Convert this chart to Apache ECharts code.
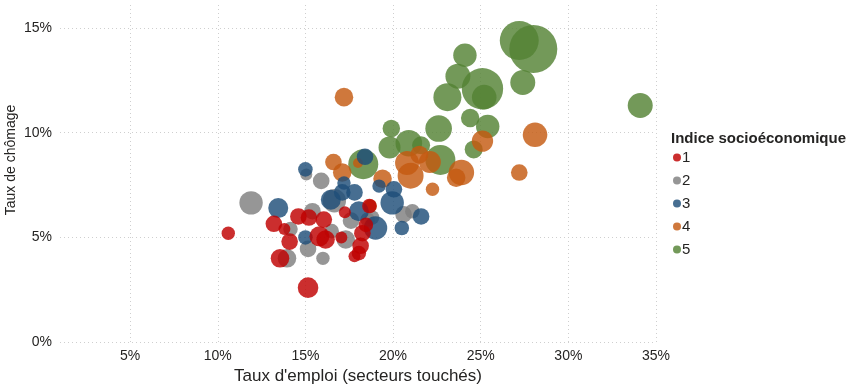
<!DOCTYPE html>
<html>
<head>
<meta charset="utf-8">
<script src="https://cdn.jsdelivr.net/npm/echarts@6/dist/echarts.min.js"></script>
<style>html,body{margin:0;padding:0;background:#fff}#c{width:850px;height:390px}</style>
</head>
<body>
<div id="c"></div>
<script>
// Indice socioéconomique groups: employment rate in affected sectors (%), unemployment rate (%), population (bubble size)
const categories = ['1', '2', '3', '4', '5'];
const colors = ['#C00000', '#7F7F7F', '#1F4E79', '#C55A11', '#548235'];

const x1 = [10.6, 15.15, 13.2, 13.8, 14.6, 14.1, 13.55, 16.05, 15.2, 15.8, 16.15, 17.25, 17.05, 18.25, 18.15, 18.05, 17.8, 18.65, 18.45];
const y1 = [5.2, 2.6, 5.65, 5.4, 6.0, 4.8, 4.0, 5.85, 5.95, 5.05, 4.9, 6.2, 5.0, 5.2, 4.6, 4.25, 4.1, 6.5, 5.6];
const p1 = [45, 106, 69, 36, 69, 69, 86, 69, 69, 100, 86, 36, 36, 69, 69, 53, 36, 53, 53];

const x2 = [11.9, 15.9, 15.05, 15.4, 14.15, 13.95, 15.15, 16.0, 16.5, 17.3, 17.6, 16.65, 18.8, 20.6, 21.1, 18.55];
const y2 = [6.65, 7.7, 8.0, 6.25, 5.4, 4.0, 4.45, 4.0, 5.3, 4.9, 5.8, 6.75, 5.95, 6.1, 6.25, 5.85];
const p2 = [137, 69, 36, 69, 53, 86, 69, 45, 53, 86, 69, 137, 53, 69, 53, 53];

const x3 = [15.0, 13.45, 18.4, 17.2, 16.45, 17.8, 18.05, 19.0, 19.95, 20.05, 19.2, 21.6, 20.5, 15.0, 17.1];
const y3 = [8.25, 6.4, 8.85, 7.6, 6.8, 7.15, 6.25, 5.45, 6.65, 7.3, 7.45, 6.0, 5.45, 5.0, 7.15];
const p3 = [53, 100, 69, 45, 100, 69, 100, 137, 137, 69, 45, 69, 53, 53, 69];

const x4 = [17.2, 28.1, 25.1, 27.2, 23.9, 23.6, 22.25, 20.8, 22.1, 21.0, 21.5, 16.6, 17.1, 19.4, 18.0, 18.7];
const y4 = [11.7, 9.9, 9.6, 8.1, 8.1, 7.85, 7.3, 8.55, 8.6, 7.95, 8.95, 8.6, 8.1, 7.8, 8.55, 6.5];
const p4 = [86, 151, 114, 69, 161, 86, 45, 144, 121, 169, 81, 69, 86, 86, 25, 45];

const x5 = [27.2, 28.0, 27.4, 34.1, 24.1, 23.7, 25.1, 25.2, 23.1, 24.4, 25.4, 24.6, 22.6, 19.9, 19.8, 20.9, 21.6, 22.7, 18.3];
const y5 = [14.4, 14.0, 12.4, 11.3, 13.7, 12.7, 12.1, 11.7, 11.7, 10.7, 10.3, 9.2, 10.2, 10.2, 9.3, 9.5, 9.4, 8.7, 8.5];
const p5 = [380, 576, 156, 156, 137, 156, 428, 151, 196, 86, 137, 81, 177, 76, 121, 177, 81, 225, 225];

const xTicks = [5, 10, 15, 20, 25, 30, 35];
const yTicks = [0, 5, 10, 15];

const groups = [[x1, y1, p1], [x2, y2, p2], [x3, y3, p3], [x4, y4, p4], [x5, y5, p5]];
const drawOrder = [4, 3, 1, 2, 0];

const FONT = '"Liberation Sans", Arial, sans-serif';
const TXT = '#252423';

const series = drawOrder.map(function (gi) {
  const g = groups[gi];
  return {
    name: categories[gi],
    type: 'scatter',
    data: g[0].map(function (v, i) { return [v, g[1][i], g[2][i]]; }),
    symbolSize: function (d) { return 2 * Math.sqrt(d[2]); },
    itemStyle: { color: colors[gi], opacity: 0.82 },
    emphasis: { disabled: true }
  };
});

const chart = echarts.init(document.getElementById('c'), null, { renderer: 'canvas' });
chart.setOption({
  animation: false,
  color: colors,
  textStyle: { fontFamily: FONT },
  grid: { left: 60, right: 194, top: 5, bottom: 46.5 },
  title: {
    text: 'Indice socioéconomique',
    left: 666, top: 126,
    textStyle: { fontFamily: FONT, fontSize: 15, fontWeight: 'bold', color: TXT }
  },
  legend: {
    data: categories,
    orient: 'vertical',
    left: 668, top: 145,
    icon: 'circle',
    itemWidth: 8, itemHeight: 8,
    itemGap: 8,
    textStyle: { fontFamily: FONT, fontSize: 15, color: TXT, padding: [0, 0, 0, -4] }
  },
  graphic: [{
    type: 'text',
    x: 11, y: 160,
    rotation: Math.PI / 2,
    style: {
      text: 'Taux de chômage',
      font: '14px ' + FONT,
      fill: TXT,
      textAlign: 'center',
      textVerticalAlign: 'middle'
    }
  }],
  xAxis: {
    type: 'value',
    min: 1, max: 35,
    name: "Taux d'emploi (secteurs touchés)",
    nameLocation: 'middle',
    nameGap: 22,
    nameTextStyle: { fontFamily: FONT, fontSize: 17, color: TXT },
    axisLine: { show: false },
    axisTick: { show: false, customValues: xTicks },
    axisLabel: { customValues: xTicks, formatter: '{value}%', fontFamily: FONT, fontSize: 14, color: TXT, margin: 7 },
    splitLine: { show: true, lineStyle: { type: [1, 3], color: '#cfcfcf', width: 1 } }
  },
  yAxis: {
    type: 'value',
    min: 0, max: 16.1,
    axisLine: { show: false },
    axisTick: { show: false, customValues: yTicks },
    axisLabel: { customValues: yTicks, formatter: '{value}%', fontFamily: FONT, fontSize: 14, color: TXT, margin: 8 },
    splitLine: { show: true, lineStyle: { type: [1, 3], color: '#cfcfcf', width: 1 } }
  },
  series: series
});
</script>
</body>
</html>
